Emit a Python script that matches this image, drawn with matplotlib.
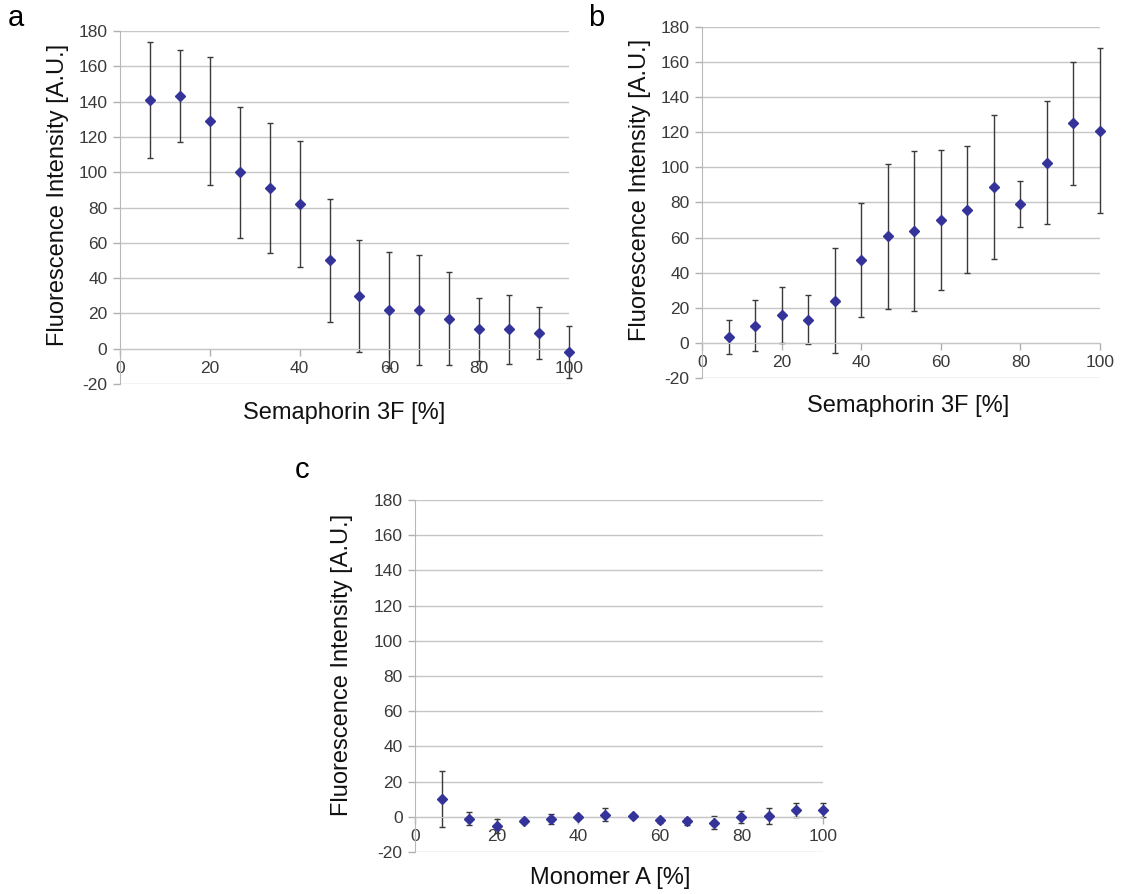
import matplotlib
matplotlib.use("Agg")
from matplotlib import pyplot as plt
import numpy as np

plt.rcParams['font.family'] = ['Liberation Sans', 'DejaVu Sans']
plt.rcParams['axes.unicode_minus'] = False

# Concentration steps (percent)
conc = [6.67, 13.33, 20, 26.67, 33.33, 40, 46.67, 53.33, 60, 66.67, 73.33, 80, 86.67, 93.33, 100]

# Panel a: fluorescence vs Semaphorin 3F
mean_a = [141, 143, 129, 100, 91, 82, 50, 30, 22, 22, 17, 11, 11, 9, -2]
err_a = [33, 26, 36, 37, 37, 35.7, 34.6, 31.8, 33, 31.3, 26.4, 18, 19.4, 14.7, 14.6]

# Panel b: fluorescence vs Semaphorin 3F
mean_b = [3.2, 9.9, 15.9, 13.1, 24, 47.2, 60.7, 63.5, 70, 76, 88.7, 79.2, 102.6, 125.1, 121]
err_b = [9.8, 14.8, 15.9, 14, 30, 32.3, 41.4, 45.6, 40, 36.3, 41, 13, 35, 35, 47]

# Panel c: fluorescence vs Monomer A
mean_c = [10, -1, -5.4, -2.3, -1.3, -0.2, 1.3, 0.4, -1.9, -2.5, -3.4, -0.2, 0.4, 4, 3.8]
err_c = [15.9, 3.5, 4, 1, 3, 1, 3.8, 1, 1.5, 2, 3.8, 3.5, 4.6, 4, 4]

yticks = [-20, 0, 20, 40, 60, 80, 100, 120, 140, 160, 180]
xticks = [0, 20, 40, 60, 80, 100]

fig = plt.figure(figsize=(11.38, 8.94), dpi=100)

def drawPanel(rect, means, errs, xlabel, xlab_pos, ylab_pos, letter, letter_pos):
    ax = fig.add_axes(rect)
    ax.set_xlim(0, 100)
    ax.set_ylim(-20, 180)
    ax.set_yticks(yticks)
    ax.set_xticks(xticks)
    for yv in yticks:
        ax.axhline(yv, color='#c6c6c6', lw=1.0, zorder=0)
    ax.errorbar(conc, means, yerr=errs, fmt='none', ecolor='#3a3a3a',
                elinewidth=1.0, capsize=2.5, capthick=1.0, zorder=2, clip_on=False)
    ax.plot(conc, means, 'D', color='#333399', markersize=5.6, zorder=3, clip_on=False)
    for s in ['top', 'right']:
        ax.spines[s].set_visible(False)
    ax.spines['left'].set_color('#b8b8b8')
    ax.spines['bottom'].set_position(('data', 0))
    ax.spines['bottom'].set_color('#c6c6c6')
    ax.tick_params(axis='both', colors='#b0b0b0', labelcolor='#3a3a3a',
                   labelsize=12.5, direction='out', length=5, width=1)
    ax.tick_params(axis='x', pad=4)
    ax.tick_params(axis='y', pad=4)
    ax.patch.set_visible(False)
    fig.text(xlab_pos[0], xlab_pos[1], xlabel, fontsize=17, ha='center', va='center', color='#111111')
    fig.text(ylab_pos[0], ylab_pos[1], 'Fluorescence Intensity [A.U.]', fontsize=17,
             rotation=90, ha='center', va='center', color='#111111')
    fig.text(letter_pos[0], letter_pos[1], letter, fontsize=21, ha='center', va='center')
    return ax

W, H = 1138.0, 894.0
drawPanel([120/W, 1-384/H, 449/W, 353/H], mean_a, err_a, 'Semaphorin 3F [%]',
          (344/W, 1-413/H), (58/W, 1-195/H), 'a', (16/W, 1-18/H))
drawPanel([702/W, 1-378/H, 398/W, 351/H], mean_b, err_b, 'Semaphorin 3F [%]',
          (908/W, 1-406/H), (640/W, 1-190/H), 'b', (596/W, 1-18/H))
drawPanel([415/W, 1-852/H, 408/W, 352/H], mean_c, err_c, 'Monomer A [%]',
          (610/W, 1-878/H), (342/W, 1-665/H), 'c', (302/W, 1-470/H))

fig.savefig('out.png', dpi=100)
